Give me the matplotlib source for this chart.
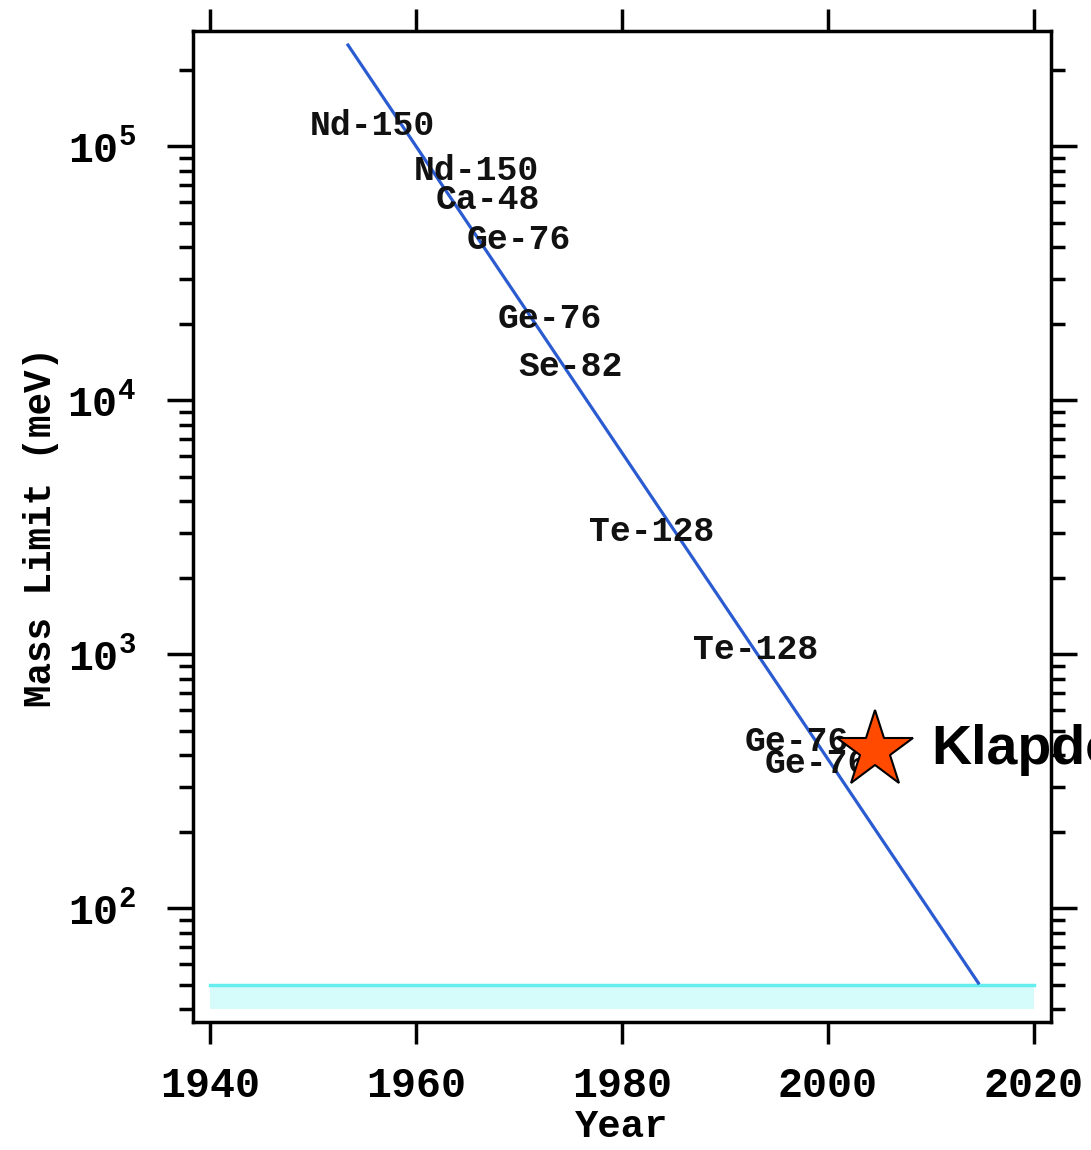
import math
import matplotlib
matplotlib.use("Agg")
import matplotlib.pyplot as plt
from matplotlib.ticker import FixedLocator, LogLocator, FuncFormatter, NullLocator

plt.rcParams['mathtext.fontset'] = 'custom'
plt.rcParams['mathtext.rm'] = 'Liberation Mono:bold'
plt.rcParams['mathtext.bf'] = 'Liberation Mono:bold'
plt.rcParams['mathtext.it'] = 'Liberation Mono:bold'

# Experiments: isotope, year, mass limit (meV)
isotopes = ["Nd-150", "Nd-150", "Ca-48", "Ge-76", "Ge-76", "Se-82",
            "Te-128", "Te-128", "Ge-76", "Ge-76"]
years = [1955.8, 1965.9, 1967.0, 1970.0, 1973.0, 1975.0, 1982.9, 1993.0, 1997.0, 1998.9]
limits = [121000, 80500, 61800, 43000, 21000, 13600, 3050, 1040, 451, 372]

# Trend line
trend_years = [1953.4, 2014.6]
trend_limits = [250000, 50.7]

# Target band
band_years = [1940, 2020]
band_low = 40
band_high = 50

# Claimed observation
claim_year = 2004.6
claim_limit = 420
claim_label = "Klapdor"

xticks = [1940, 1960, 1980, 2000, 2020]

mono = "Liberation Mono"

fig = plt.figure(figsize=(10.91, 11.5), dpi=100)
ax = fig.add_axes([0.1769, 0.1113, 0.9633 - 0.1769, 0.9730 - 0.1113])
ax.set_yscale("log")
ax.set_xlim(1938.35, 2021.65)
ax.set_ylim(35.6, 283800)

ax.fill_between(band_years, band_low, band_high, color="#d6fbfb", lw=0, zorder=1)
ax.plot(band_years, [band_high, band_high], color="#66eeee", lw=2.5, zorder=2)
ax.plot(trend_years, trend_limits, color="#2a5bd0", lw=2.3, zorder=3)

for name, yr, lim in zip(isotopes, years, limits):
    ax.text(yr, lim, name, ha="center", va="center", family=mono,
            fontweight="bold", fontsize=25, color="#111111", zorder=4)

ax.plot([claim_year], [claim_limit], marker="*", markersize=58,
        markerfacecolor="#ff4a00", markeredgecolor="black", markeredgewidth=1.5,
        linestyle="none", zorder=5, clip_on=False)
ax.text(claim_year + 5.4, claim_limit, claim_label, ha="left", va="center",
        family="Liberation Sans", fontweight="bold", fontsize=40, color="black",
        zorder=5, clip_on=False)

for s in ax.spines.values():
    s.set_linewidth(2.5)

ax.xaxis.set_major_locator(FixedLocator(xticks))
ax.xaxis.set_minor_locator(NullLocator())
ax.xaxis.set_major_formatter(FuncFormatter(lambda v, p: f"{int(v)}"))
ax.tick_params(axis="x", which="major", direction="out", top=True, bottom=True,
               length=16, width=2.5, pad=16)
for lab in ax.get_xticklabels():
    lab.set_family(mono)
    lab.set_fontweight("bold")
    lab.set_fontsize(30)

ax.yaxis.set_major_locator(LogLocator(base=10, numticks=10))
ax.yaxis.set_minor_locator(LogLocator(base=10, subs=range(2, 10), numticks=20))
ax.yaxis.set_major_formatter(FuncFormatter(lambda v, p: r"$10^{%d}$" % round(math.log10(v))))
ax.tick_params(axis="y", which="major", direction="out", left=True, right=True,
               length=19, width=2.5, pad=22, labelsize=30)
ax.tick_params(axis="y", which="minor", direction="out", left=True, right=True,
               length=10, width=2.5)

ax.set_xlabel("Year", family=mono, fontweight="bold", fontsize=28, labelpad=2)
ax.set_ylabel("Mass Limit (meV)", family=mono, fontweight="bold", fontsize=27, labelpad=6)

fig.savefig("out.png", dpi=100)
